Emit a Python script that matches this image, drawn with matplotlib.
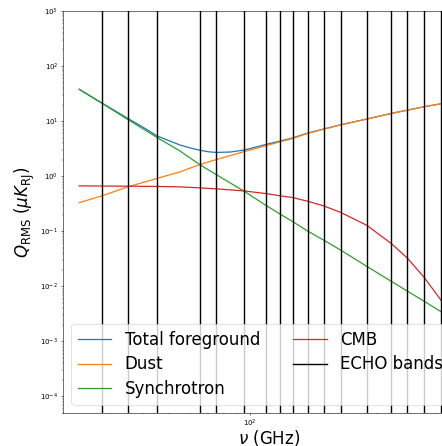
import numpy as np
import matplotlib
matplotlib.use("Agg")
import matplotlib.pyplot as plt

freq = [23, 28, 35, 45, 55, 65, 75, 95, 115, 130, 145, 165, 190, 220, 275, 340, 390, 450, 520, 600]
dust = [0.33, 0.44, 0.64, 0.91, 1.20, 1.62, 2.0, 2.77, 3.56, 4.2, 4.84, 5.97, 7.16, 8.57, 10.9, 13.8, 15.8, 18.2, 20.6, 23.2]
sync = [37.7, 21.0, 10.7, 5.06, 2.85, 1.63, 1.07, 0.541, 0.297, 0.206, 0.150, 0.101, 0.0686, 0.0452,
        0.0231, 0.0123, 0.0082, 0.0054, 0.0035, 0.0023]
cmb = [0.667, 0.662, 0.658, 0.65, 0.64, 0.614, 0.589, 0.541, 0.484, 0.44, 0.41, 0.351, 0.288, 0.219,
       0.1285, 0.0597, 0.0327, 0.0148, 0.00575, 0.0021]

# total foreground, sampled a bit denser around the minimum
freq_tot = [23, 28, 35, 40, 45, 50, 55, 60, 65, 70, 75, 85, 95, 105, 115, 130, 145, 165, 190, 220,
            275, 340, 390, 450, 520, 600]
total = [38.0, 21.3, 11.2, 7.7, 5.4, 4.4, 3.67, 3.25, 2.97, 2.78, 2.70, 2.75, 2.97, 3.35, 3.77, 4.33,
         4.95, 6.05, 7.2, 8.6, 10.9, 13.8, 15.8, 18.2, 20.6, 23.3]

# ECHO band centres (GHz)
bands = [28, 35, 45, 65, 75, 95, 115, 130, 145, 165, 190, 220, 275, 340, 390, 450, 520]

fig = plt.figure(figsize=(8.84, 8.92), dpi=50)
ax = fig.add_axes([63 / 442, 33 / 446, 412 / 442, 402 / 446])

ax.loglog(freq_tot, total, lw=1.8, label='Total foreground')
ax.loglog(freq, dust, lw=1.8, label='Dust')
ax.loglog(freq, sync, lw=1.8, label='Synchrotron')
ax.loglog(freq, cmb, lw=1.8, label='CMB')
for i, b in enumerate(bands):
    ax.axvline(b, color='k', lw=2, label='ECHO bands' if i == 0 else None)

ax.set_xlim(20, 700)
ax.set_ylim(5e-5, 1e3)
ax.set_xlabel(r'$\nu$ (GHz)', fontsize=24, labelpad=-2)
ax.set_ylabel(r'$Q_{\rm RMS}$ ($\mu K_{\rm RJ}$)', fontsize=24)

ax.legend(loc='lower left', ncol=2, fontsize=24, labelspacing=0.4)

fig.savefig('out.png', dpi=50)
